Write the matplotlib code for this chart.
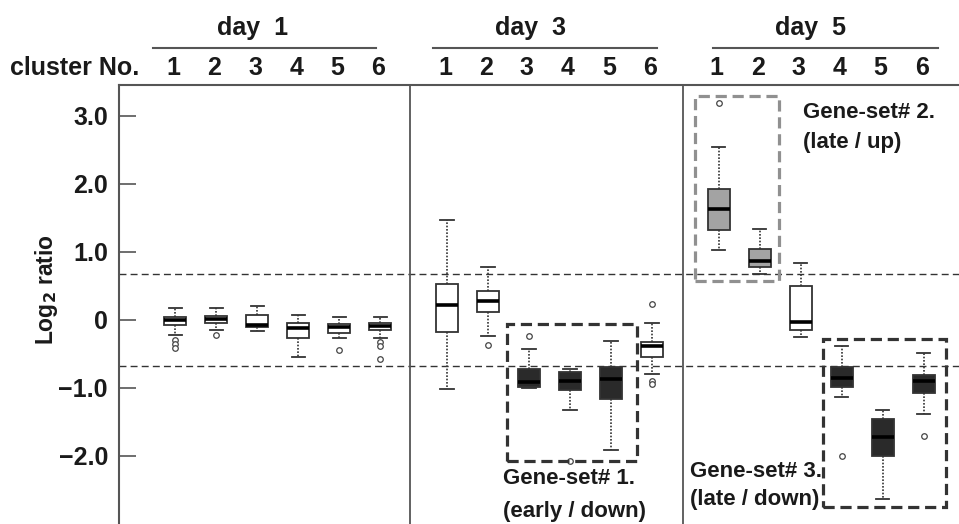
import numpy as np
import matplotlib.pyplot as plt
import matplotlib.transforms as mtransforms
from matplotlib.patches import Rectangle

plt.rcParams['font.family'] = ['Liberation Sans', 'DejaVu Sans']
plt.rcParams['font.weight'] = 'bold'

###  Data

days = ['day  1', 'day  3', 'day  5']
clusters = ['1', '2', '3', '4', '5', '6']

whis_lo = [-0.22, -0.15, -0.16, -0.54, -0.27, -0.27,
           -1.01, -0.24, -1.00, -1.32, -1.91, -0.80,
            1.02,  0.68, -0.25, -1.14, -2.64, -1.39]
q1      = [-0.07, -0.04, -0.11, -0.26, -0.19, -0.15,
           -0.18,  0.12, -0.98, -1.03, -1.17, -0.54,
            1.32,  0.77, -0.15, -0.98, -2.00, -1.08]
med     = [-0.01,  0.01, -0.07, -0.12, -0.10, -0.09,
            0.22,  0.27, -0.92, -0.90, -0.87, -0.39,
            1.63,  0.87, -0.03, -0.86, -1.72, -0.90]
q3      = [ 0.04,  0.06,  0.07, -0.04, -0.06, -0.05,
            0.53,  0.42, -0.72, -0.76, -0.69, -0.33,
            1.92,  1.04,  0.50, -0.69, -1.46, -0.81]
whis_hi = [ 0.17,  0.17,  0.20,  0.07,  0.04,  0.04,
            1.46,  0.78, -0.43, -0.73, -0.31, -0.04,
            2.54,  1.34,  0.83, -0.38, -1.32, -0.49]
fliers  = [[-0.30, -0.36, -0.41], [-0.23], [], [], [-0.44], [-0.33, -0.39, -0.57],
           [], [-0.37], [-0.24], [-2.07], [], [0.23, -0.90, -0.95],
           [3.19], [], [], [-2.00], [], [-1.71]]

# box fill: w = white, d = dark, g = gray
fill = ['w', 'w', 'w', 'w', 'w', 'w',
        'w', 'w', 'd', 'd', 'd', 'w',
        'g', 'g', 'w', 'd', 'd', 'd']

cutoff = 0.68

gene_sets = [('Gene-set# 1.', '(early / down)'),
             ('Gene-set# 2.', '(late / up)'),
             ('Gene-set# 3.', '(late / down)')]


###  Layout

day_step = 6.63
pos = [d * day_step + k + 1 for d in range(3) for k in range(6)]
colors = {'w': 'white', 'd': '#2a2a2a', 'g': '#a3a3a3'}
ink = '#1a1a1a'

fig = plt.figure(figsize=(9.59, 5.24), dpi=100)
ax = fig.add_axes([119/959, 0, 1 - 119/959, 439/524])

stats = []
for i in range(18):
    stats.append(dict(whislo=whis_lo[i], q1=q1[i], med=med[i], q3=q3[i],
                      whishi=whis_hi[i], fliers=fliers[i]))

bp = ax.bxp(stats, positions=pos, widths=0.54, patch_artist=True,
            capwidths=0.32, showfliers=True,
            boxprops=dict(edgecolor='#333333', linewidth=1.3),
            whiskerprops=dict(color='#333333', linestyle=(0, (1, 1)), linewidth=1.2),
            capprops=dict(color='#333333', linewidth=1.3),
            medianprops=dict(color='black', linewidth=2.6),
            flierprops=dict(marker='o', markersize=4, markerfacecolor='white',
                            markeredgecolor='#444444', markeredgewidth=0.9))
for patch, f in zip(bp['boxes'], fill):
    patch.set_facecolor(colors[f])

ax.axhline(cutoff, color='#333333', linestyle=(0, (5, 3)), linewidth=1.0, zorder=0)
ax.axhline(-cutoff, color='#333333', linestyle=(0, (5, 3)), linewidth=1.0, zorder=0)

for xd in [6.73, 13.39]:
    ax.axvline(xd, color='#555555', linewidth=1.3)

ax.set_xlim(-0.37, 20.12)
ax.set_ylim(-3.0, 3.45)

ax.set_xticks([])
ax.set_yticks([3, 2, 1, 0, -1, -2])
ax.set_yticklabels(['3.0', '2.0', '1.0', '0', '\u22121.0', '\u22122.0'],
                   fontsize=18, fontweight='bold', color=ink)
ax.tick_params(axis='y', direction='in', length=12, width=1.2, color='#555555', pad=8)

for side in ['right', 'bottom']:
    ax.spines[side].set_visible(False)
for side in ['left', 'top']:
    ax.spines[side].set_color('#555555')
    ax.spines[side].set_linewidth(1.5)

fig.text(47/959, 1 - 290/524, 'Log$_\\mathbf{2}$ ratio', rotation=90, fontsize=16.5,
         fontweight='bold', ha='center', va='center', color=ink)


###  Gene-set frames and labels

rects = [(pos[8] - 0.54, -2.08, pos[10] + 0.63, -0.06, '#333333'),
         (pos[12] - 0.59, 0.57, pos[13] + 0.46, 3.29, '#909090'),
         (pos[15] - 0.46, -2.75, pos[17] + 0.54, -0.28, '#333333')]
for x0, y0, x1, y1, c in rects:
    ax.add_patch(Rectangle((x0, y0), x1 - x0, y1 - y0, fill=False, edgecolor=c,
                           linewidth=2.3, linestyle=(0, (3.5, 1.8)), zorder=5))

label_xy = [(9.0, -2.33, -2.82), (16.32, 3.04, 2.60), (13.56, -2.23, -2.64)]
for (l1, l2), (lx, ly1, ly2) in zip(gene_sets, label_xy):
    ax.text(lx, ly1, l1, fontsize=16, fontweight='bold', va='center', ha='left', color=ink)
    ax.text(lx, ly2, l2, fontsize=16, fontweight='bold', va='center', ha='left', color=ink)


###  Header: day labels and cluster numbers

trans = mtransforms.blended_transform_factory(ax.transData, fig.transFigure)
day_lines = [(0.46, 5.90), (7.29, 12.76), (14.12, 19.61)]
day_text_x = [2.88, 9.66, 16.49]
for d in range(3):
    ax.plot(day_lines[d], [1 - 48/524] * 2, color='#555555', linewidth=1.5,
            transform=trans, clip_on=False)
    ax.text(day_text_x[d], 1 - 28/524, days[d], fontsize=18, fontweight='bold',
            ha='center', va='center', transform=trans, color=ink)
    for k in range(6):
        ax.text(pos[d * 6 + k] - 0.05, 1 - 68/524, clusters[k], fontsize=18,
                fontweight='bold', ha='center', va='center', transform=trans,
                color=ink)

fig.text(10/959, 1 - 68/524, 'cluster No.', fontsize=18, fontweight='bold',
         ha='left', va='center', color=ink)

plt.savefig('out.png', dpi=100)
